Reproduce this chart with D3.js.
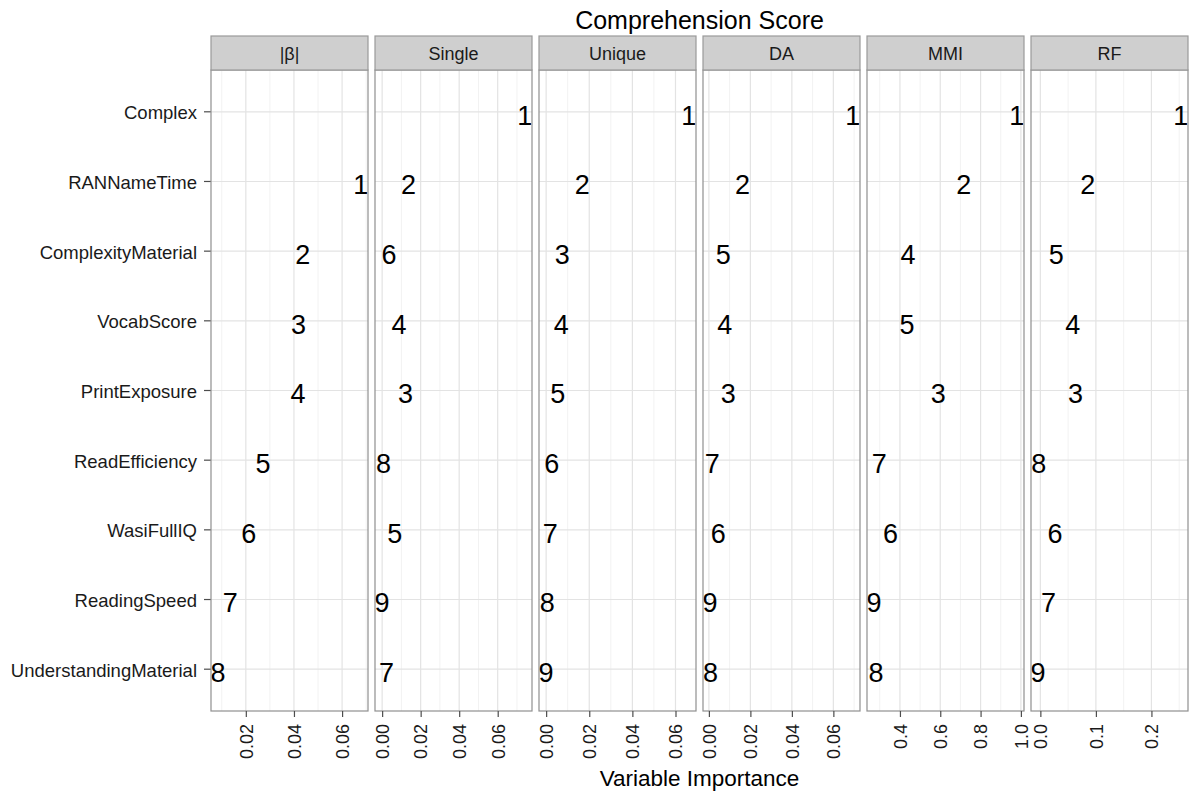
<!DOCTYPE html>
<html>
<head>
<meta charset="utf-8">
<script src="https://cdn.jsdelivr.net/npm/d3@7"></script>
<style>
  html, body { margin: 0; padding: 0; background: #ffffff; }
  svg { display: block; font-family: "Liberation Sans", Arial, Helvetica, sans-serif; }
</style>
</head>
<body>
<svg id="chart" width="1193" height="796"></svg>
<script>
// Predictors, top to bottom
const categories = [
  "Complex", "RANNameTime", "ComplexityMaterial", "VocabScore", "PrintExposure",
  "ReadEfficiency", "WasiFullIQ", "ReadingSpeed", "UnderstandingMaterial"
];

// Importance measures (one facet each)
const methods = ["|β|", "Single", "Unique", "DA", "MMI", "RF"];

// Importance values per measure, in category order (null = not available)
const betaValues   = [null, 0.0678, 0.0437, 0.0419, 0.0417, 0.0271, 0.0212, 0.0135, 0.0085];
const singleValues = [0.0741, 0.0137, 0.0036, 0.0088, 0.0122, 0.0007, 0.0066, 0.0000, 0.0023];
const uniqueValues = [0.0662, 0.0168, 0.0075, 0.0070, 0.0054, 0.0026, 0.0019, 0.0005, 0.0000];
const daValues     = [0.0694, 0.0162, 0.0069, 0.0077, 0.0093, 0.0016, 0.0045, 0.0006, 0.0008];
const mmiValues    = [0.980, 0.716, 0.440, 0.435, 0.590, 0.297, 0.353, 0.272, 0.281];
const rfValues     = [0.253, 0.0855, 0.0285, 0.0584, 0.0633, -0.003, 0.0265, 0.0145, -0.004];

// Axis breaks per measure
const betaTicks   = [0.02, 0.04, 0.06];
const singleTicks = [0.00, 0.02, 0.04, 0.06];
const uniqueTicks = [0.00, 0.02, 0.04, 0.06];
const daTicks     = [0.00, 0.02, 0.04, 0.06];
const mmiTicks    = [0.4, 0.6, 0.8, 1.0];
const rfTicks     = [0.0, 0.1, 0.2];

const panels = [
  { name: methods[0], values: betaValues,   ticks: betaTicks,   fmt: d3.format(".2f") },
  { name: methods[1], values: singleValues, ticks: singleTicks, fmt: d3.format(".2f") },
  { name: methods[2], values: uniqueValues, ticks: uniqueTicks, fmt: d3.format(".2f") },
  { name: methods[3], values: daValues,     ticks: daTicks,     fmt: d3.format(".2f") },
  { name: methods[4], values: mmiValues,    ticks: mmiTicks,    fmt: d3.format(".1f") },
  { name: methods[5], values: rfValues,     ticks: rfTicks,     fmt: d3.format(".1f") }
];

const svg = d3.select("#chart");

// Layout
const plotLeft = 211, panelW = 157, panelGap = 7;
const stripTop = 36, panelTop = 70, panelBottom = 711;

const y = d3.scalePoint()
  .domain(categories)
  .range([panelTop, panelBottom])
  .padding(0.6);

const bandX = d3.scaleBand()
  .domain(methods)
  .range([plotLeft, plotLeft + methods.length * panelW + (methods.length - 1) * panelGap])
  .paddingInner(panelGap / (panelW + panelGap));

// Title
svg.append("text")
  .attr("x", plotLeft + (methods.length * (panelW + panelGap) - panelGap) / 2)
  .attr("y", 29)
  .attr("text-anchor", "middle")
  .attr("font-size", 25)
  .attr("fill", "#000")
  .text("Comprehension Score");

// Y axis (shared, left of first panel)
const yAxis = svg.append("g");
categories.forEach(c => {
  yAxis.append("line")
    .attr("x1", plotLeft - 7).attr("x2", plotLeft)
    .attr("y1", y(c)).attr("y2", y(c))
    .attr("stroke", "#4d4d4d").attr("stroke-width", 1.2);
  yAxis.append("text")
    .attr("x", plotLeft - 14)
    .attr("y", y(c))
    .attr("dy", "0.4em")
    .attr("text-anchor", "end")
    .attr("font-size", 18.5)
    .attr("fill", "#1a1a1a")
    .text(c);
});

panels.forEach(p => {
  const x0 = bandX(p.name);
  const w = bandX.bandwidth();
  const defined = p.values.filter(v => v != null);
  const [lo, hi] = d3.extent(defined);
  const pad = (hi - lo) * 0.05;
  const x = d3.scaleLinear().domain([lo - pad, hi + pad]).range([x0, x0 + w]);

  // rank labels from importance (1 = most important)
  const order = defined.slice().sort((a, b) => b - a);
  const rankOf = v => order.indexOf(v) + 1;

  const g = svg.append("g");

  // panel background
  g.append("rect")
    .attr("x", x0).attr("y", panelTop)
    .attr("width", w).attr("height", panelBottom - panelTop)
    .attr("fill", "#ffffff");

  // minor grid: half-steps between and just beyond the breaks
  const step = p.ticks[1] - p.ticks[0];
  const minors = [p.ticks[0] - step / 2]
    .concat(p.ticks.map(t => t + step / 2))
    .filter(v => v >= x.domain()[0] && v <= x.domain()[1]);
  g.selectAll(".minor").data(minors).enter().append("line")
    .attr("x1", d => x(d)).attr("x2", d => x(d))
    .attr("y1", panelTop).attr("y2", panelBottom)
    .attr("stroke", "#f2f2f2").attr("stroke-width", 1);

  // major grid vertical
  g.selectAll(".vmajor").data(p.ticks).enter().append("line")
    .attr("x1", d => x(d)).attr("x2", d => x(d))
    .attr("y1", panelTop).attr("y2", panelBottom)
    .attr("stroke", "#e3e3e3").attr("stroke-width", 1.2);

  // major grid horizontal
  g.selectAll(".hmajor").data(categories).enter().append("line")
    .attr("x1", x0).attr("x2", x0 + w)
    .attr("y1", d => y(d)).attr("y2", d => y(d))
    .attr("stroke", "#e3e3e3").attr("stroke-width", 1.2);

  // rank labels positioned at importance
  const rows = categories.map((c, i) => ({ c, v: p.values[i] })).filter(d => d.v != null);
  g.selectAll(".lab").data(rows).enter().append("text")
    .attr("x", d => x(d.v))
    .attr("y", d => y(d.c))
    .attr("dy", 12.8)
    .attr("text-anchor", "middle")
    .attr("font-size", 27)
    .attr("fill", "#000")
    .text(d => rankOf(d.v));

  // panel border
  g.append("rect")
    .attr("x", x0).attr("y", panelTop)
    .attr("width", w).attr("height", panelBottom - panelTop)
    .attr("fill", "none")
    .attr("stroke", "#8f8f8f").attr("stroke-width", 1.2);

  // strip
  g.append("rect")
    .attr("x", x0).attr("y", stripTop)
    .attr("width", w).attr("height", panelTop - stripTop)
    .attr("fill", "#cfcfcf")
    .attr("stroke", "#9a9a9a").attr("stroke-width", 1.2);
  g.append("text")
    .attr("x", x0 + w / 2)
    .attr("y", (stripTop + panelTop) / 2)
    .attr("dy", "0.4em")
    .attr("text-anchor", "middle")
    .attr("font-size", 18)
    .attr("fill", "#1a1a1a")
    .text(p.name);

  // bottom axis
  const ax = g.append("g").attr("transform", `translate(0,${panelBottom})`)
    .call(d3.axisBottom(x).tickValues(p.ticks).tickFormat(p.fmt).tickSize(6).tickSizeOuter(0));
  ax.select(".domain").remove();
  ax.selectAll(".tick line").attr("stroke", "#4d4d4d").attr("stroke-width", 1.2);
  ax.selectAll(".tick text")
    .attr("font-family", "Liberation Sans, Arial, sans-serif")
    .attr("font-size", 18)
    .attr("fill", "#1a1a1a")
    .attr("transform", "rotate(-90)")
    .attr("text-anchor", "end")
    .attr("x", -13)
    .attr("y", 0)
    .attr("dy", "0.35em");
});

// X axis title
svg.append("text")
  .attr("x", plotLeft + (methods.length * (panelW + panelGap) - panelGap) / 2)
  .attr("y", 786)
  .attr("text-anchor", "middle")
  .attr("font-size", 22.5)
  .attr("fill", "#000")
  .text("Variable Importance");
</script>
</body>
</html>
